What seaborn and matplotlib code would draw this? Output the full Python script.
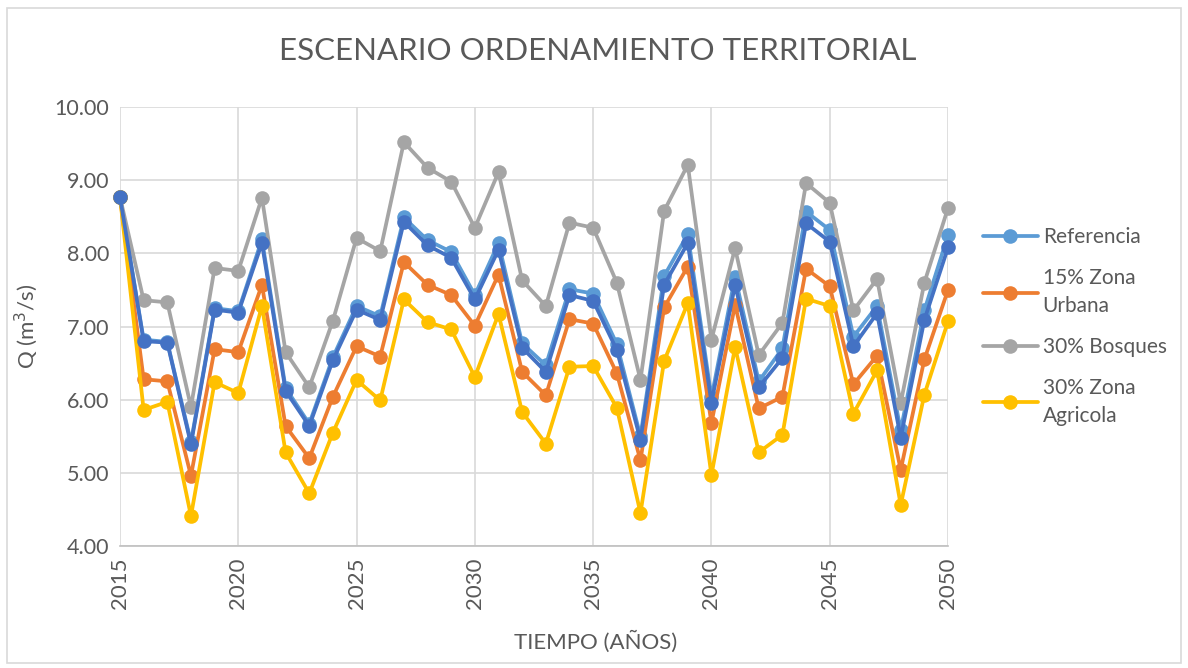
import numpy as np
import pandas as pd
import matplotlib
matplotlib.use("Agg")
import matplotlib.pyplot as plt
from matplotlib.patches import Rectangle
import seaborn as sns

years = list(range(2015, 2051))

referencia = [8.77, 6.82, 6.79, 5.42, 7.25, 7.21, 8.19, 6.16, 5.67, 6.58, 7.28, 7.14,
              8.49, 8.18, 8.02, 7.43, 8.14, 6.77, 6.47, 7.51, 7.45, 6.76, 5.50, 7.69,
              8.26, 6.03, 7.68, 6.25, 6.70, 8.57, 8.32, 6.86, 7.28, 5.58, 7.22, 8.25]
zona_urbana = [8.77, 6.28, 6.25, 4.96, 6.69, 6.65, 7.57, 5.64, 5.20, 6.04, 6.73, 6.59,
               7.88, 7.57, 7.43, 7.01, 7.71, 6.38, 6.06, 7.10, 7.04, 6.36, 5.17, 7.26,
               7.82, 5.68, 7.30, 5.88, 6.04, 7.79, 7.55, 6.21, 6.60, 5.04, 6.55, 7.50]
bosques = [8.77, 7.36, 7.33, 5.90, 7.80, 7.76, 8.76, 6.65, 6.17, 7.08, 8.21, 8.03,
           9.52, 9.17, 8.98, 8.35, 9.11, 7.63, 7.28, 8.42, 8.35, 7.60, 6.27, 8.58,
           9.21, 6.82, 8.07, 6.61, 7.05, 8.96, 8.69, 7.22, 7.65, 5.95, 7.60, 8.62]
zona_agricola = [8.77, 5.86, 5.97, 4.41, 6.24, 6.09, 7.28, 5.28, 4.72, 5.55, 6.27, 5.99,
                 7.37, 7.06, 6.96, 6.31, 7.17, 5.83, 5.40, 6.45, 6.46, 5.89, 4.45, 6.53,
                 7.32, 4.97, 6.72, 5.28, 5.52, 7.38, 7.28, 5.81, 6.40, 4.56, 6.07, 7.07]
escenario = [8.77, 6.80, 6.78, 5.39, 7.23, 7.19, 8.14, 6.12, 5.64, 6.54, 7.23, 7.09,
             8.43, 8.11, 7.94, 7.37, 8.05, 6.71, 6.38, 7.43, 7.35, 6.68, 5.45, 7.57,
             8.14, 5.96, 7.57, 6.17, 6.57, 8.41, 8.16, 6.73, 7.18, 5.48, 7.09, 8.08]

series_names = ["Referencia", "15% Zona\nUrbana", "30% Bosques", "30% Zona\nAgricola", "_escenario"]
series_values = [referencia, zona_urbana, bosques, zona_agricola, escenario]
series_colors = ["#5B9BD5", "#ED7D31", "#A5A5A5", "#FFC000", "#4472C4"]

sns.set_theme(style="white")
plt.rcParams["font.family"] = ["Lato", "DejaVu Sans"]
text_color = "#595959"

fig = plt.figure(figsize=(11.88, 6.68), dpi=100)
ax = fig.add_axes([0.101, 0.1826, 0.697, 0.6572])

for name, vals, col in zip(series_names, series_values, series_colors):
    df = pd.DataFrame({"Año": years, "Q": vals})
    sns.lineplot(data=df, x="Año", y="Q", ax=ax, color=col, linewidth=2.7,
                 marker="o", markersize=10.5, markeredgewidth=0, clip_on=False,
                 label=None if name.startswith("_") else name, legend=False)

ax.set_xlim(2015, 2050)
ax.set_ylim(4, 10)
ax.set_xticks(range(2015, 2051, 5))
ax.set_yticks(np.arange(4, 10.01, 1))
ax.set_yticklabels([f"{v:.2f}" for v in np.arange(4, 10.01, 1)])
ax.grid(True, color="#D9D9D9", linewidth=1.2)
ax.set_axisbelow(True)
for s in ["top", "right", "left"]:
    ax.spines[s].set_visible(False)
ax.spines["bottom"].set_color("#BFBFBF")
ax.spines["bottom"].set_linewidth(1.2)
ax.tick_params(axis="x", labelrotation=90, labelsize=16, colors=text_color, length=0, pad=8)
ax.tick_params(axis="y", labelsize=15.5, colors=text_color, length=0, pad=8)

ax.set_xlabel("TIEMPO (AÑOS)", fontsize=16, color=text_color)
ax.xaxis.set_label_coords(0.574, -0.192)
ax.set_ylabel("Q (m$^3$/s)", fontsize=16, color=text_color, labelpad=10)

fig.text(0.503, 0.924, "ESCENARIO ORDENAMIENTO TERRITORIAL", ha="center", va="center",
         fontsize=22.5, color=text_color)

handles, labels = ax.get_legend_handles_labels()
leg = ax.legend(handles, labels, loc="center left", bbox_to_anchor=(1.02, 0.50),
                frameon=False, fontsize=15, handlelength=2.6, labelspacing=1.0,
                handletextpad=0.25, labelcolor=text_color)
for t in leg.get_texts():
    t.set_linespacing(1.5)

fig.patches.append(Rectangle((0.006, 0.008), 0.988, 0.98, transform=fig.transFigure,
                             fill=False, edgecolor="#D9D9D9", linewidth=1.2))

fig.savefig("out.png", dpi=100, facecolor="white")
